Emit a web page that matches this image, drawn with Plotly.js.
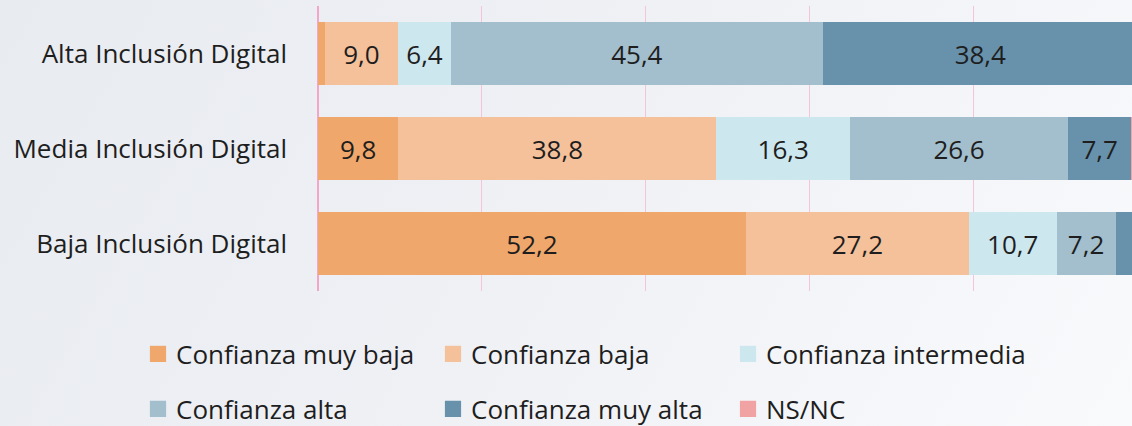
<!DOCTYPE html>
<html>
<head>
<meta charset="utf-8">
<script src="https://cdn.plot.ly/plotly-3.0.1.min.js"></script>
<style>
  html, body { margin: 0; padding: 0; }
  body { width: 1132px; height: 426px; background: linear-gradient(120deg, #e8ebf0 0%, #eff1f5 50%, #f9fafc 100%); }
  #chart { width: 1132px; height: 426px; }
  #chart g.legend g.scrollbox { clip-path: none !important; }
  #chart g.legendpoints path { transform: translate(22px, 0px) scale(1.35) !important; }
</style>
</head>
<body>
<div id="chart"></div>
<script>
// Categories (top to bottom)
const categories = ["Alta Inclusión Digital", "Media Inclusión Digital", "Baja Inclusión Digital"];

// Series values (%), in the order of categories
const seriesNames = ["Confianza muy baja", "Confianza baja", "Confianza intermedia", "Confianza alta", "Confianza muy alta", "NS/NC"];
const muyBaja      = [0.8, 9.8, 52.2];
const baja         = [9.0, 38.8, 27.2];
const intermedia   = [6.4, 16.3, 10.7];
const alta         = [45.4, 26.6, 7.2];
const muyAlta      = [38.4, 7.7, 2.7];
const nsnc         = [0.0, 0.8, 0.0];

const seriesValues = [muyBaja, baja, intermedia, alta, muyAlta, nsnc];
const colors = ["#f0a76b", "#f5c19b", "#cde7ee", "#a3bfcd", "#6892ab", "#f1a3a3"];

function fmt(v) { return v >= 3 ? v.toFixed(1).replace('.', ',') : ''; }

const FONT = '"Open Sans", sans-serif';

const traces = seriesValues.map((vals, i) => ({
  type: 'bar',
  orientation: 'h',
  name: seriesNames[i],
  y: categories,
  x: vals,
  text: vals.map(fmt),
  textposition: 'inside',
  insidetextanchor: 'middle',
  constraintext: 'none',
  textfont: { family: FONT, size: 26, color: '#1e1e1e' },
  marker: { color: colors[i], line: { width: 0 } },
  hoverinfo: 'skip',
  legend: i < 3 ? 'legend' : 'legend2'
}));

// plot area: x 318..1132 (814 px), y 6..291 (285 px)
const legendCommon = {
  orientation: 'h',
  xref: 'paper', yref: 'paper',
  xanchor: 'left', yanchor: 'middle',
  entrywidth: 250, entrywidthmode: 'pixels',
  font: { family: FONT, size: 26, color: '#1e1e1e' },
  bgcolor: 'rgba(0,0,0,0)',
  borderwidth: 0,
  traceorder: 'normal',
  itemclick: false, itemdoubleclick: false
};

const layout = {
  width: 1132, height: 426,
  margin: { l: 318, r: 0, t: 6, b: 135, pad: 0, autoexpand: false },
  paper_bgcolor: 'rgba(0,0,0,0)',
  plot_bgcolor: 'rgba(0,0,0,0)',
  barmode: 'stack',
  bargap: 0.34,
  font: { family: FONT, color: '#1e1e1e' },
  xaxis: {
    range: [0, 99.3],
    dtick: 20, tick0: 0,
    showticklabels: false,
    showgrid: true, gridcolor: '#f6c4da', gridwidth: 1,
    zeroline: true, zerolinecolor: '#f2a6c8', zerolinewidth: 2,
    showline: false, fixedrange: true
  },
  yaxis: {
    categoryorder: 'array', categoryarray: categories,
    autorange: 'reversed',
    showgrid: false, zeroline: false, showline: false,
    ticks: '', ticklabelstandoff: 30,
    tickfont: { family: FONT, size: 26, color: '#1e1e1e' },
    fixedrange: true
  },
  showlegend: true,
  legend: Object.assign({}, legendCommon, { x: (136 - 318) / 814, y: (291 - 354) / 285 }),
  legend2: Object.assign({}, legendCommon, { x: (136 - 318) / 814, y: (291 - 409) / 285 })
};

Plotly.newPlot('chart', traces, layout, { displayModeBar: false, staticPlot: true });
</script>
</body>
</html>
